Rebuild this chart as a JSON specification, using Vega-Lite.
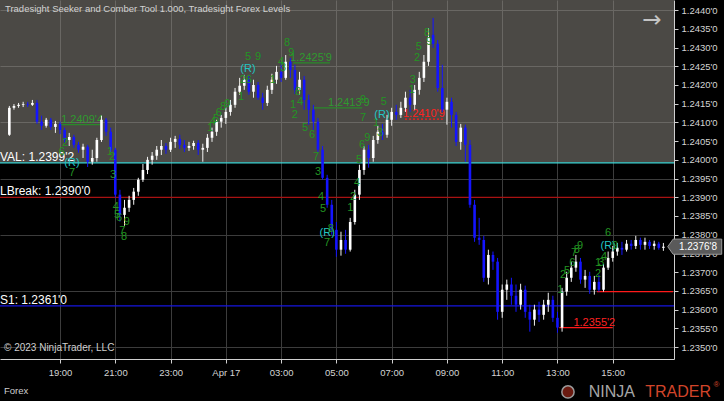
{
  "$schema": "https://vega.github.io/schema/vega-lite/v6.json",
  "width": 674,
  "height": 359,
  "autosize": {"type": "none"},
  "padding": {"left": 0, "top": 0, "right": 50, "bottom": 42},
  "background": "#000000",
  "config": {
    "view": {"stroke": null, "fill": "#000000"},
    "font": "Liberation Sans",
    "text": {"font": "Liberation Sans"},
    "scale": {"continuousPadding": 0},
    "axis": {"title": null, "labelOverlap": false},
    "axisY": {"labelOverlap": false},
    "axisQuantitative": {"labelOverlap": false}
  },
  "datasets": {
    "bars": [
      {"m":10,"o":1.24067,"h":1.24144,"l":1.24064,"c":1.24139},
      {"m":20,"o":1.24139,"h":1.24149,"l":1.24134,"c":1.24144},
      {"m":30,"o":1.24144,"h":1.24152,"l":1.24139,"c":1.24147},
      {"m":40,"o":1.24147,"h":1.24155,"l":1.24141,"c":1.24149},
      {"m":50,"o":1.24149,"h":1.24155,"l":1.24141,"c":1.24147},
      {"m":60,"o":1.24147,"h":1.2416,"l":1.24144,"c":1.24152},
      {"m":70,"o":1.24152,"h":1.2416,"l":1.24096,"c":1.24102},
      {"m":80,"o":1.24102,"h":1.24118,"l":1.2408,"c":1.24091},
      {"m":90,"o":1.24091,"h":1.24112,"l":1.24086,"c":1.24107},
      {"m":100,"o":1.24107,"h":1.24112,"l":1.2408,"c":1.24088},
      {"m":110,"o":1.24088,"h":1.24104,"l":1.24072,"c":1.24096},
      {"m":120,"o":1.24096,"h":1.24102,"l":1.24069,"c":1.2408},
      {"m":130,"o":1.2408,"h":1.24086,"l":1.24045,"c":1.24053},
      {"m":140,"o":1.24053,"h":1.24072,"l":1.24037,"c":1.24061},
      {"m":150,"o":1.24061,"h":1.24067,"l":1.24032,"c":1.2404},
      {"m":160,"o":1.2404,"h":1.24048,"l":1.24019,"c":1.24027},
      {"m":170,"o":1.24027,"h":1.24043,"l":1.24005,"c":1.24035},
      {"m":180,"o":1.24035,"h":1.2404,"l":1.23981,"c":1.23995},
      {"m":190,"o":1.23995,"h":1.24027,"l":1.23987,"c":1.24005},
      {"m":200,"o":1.24005,"h":1.24059,"l":1.23995,"c":1.24053},
      {"m":210,"o":1.24053,"h":1.24118,"l":1.24048,"c":1.24107},
      {"m":220,"o":1.24107,"h":1.24112,"l":1.24064,"c":1.24075},
      {"m":230,"o":1.24075,"h":1.24086,"l":1.24021,"c":1.24027},
      {"m":240,"o":1.24027,"h":1.24032,"l":1.23899,"c":1.23907},
      {"m":250,"o":1.23907,"h":1.2392,"l":1.23835,"c":1.23853},
      {"m":260,"o":1.23853,"h":1.23893,"l":1.23824,"c":1.23872},
      {"m":270,"o":1.23872,"h":1.23904,"l":1.23861,"c":1.23893},
      {"m":280,"o":1.23893,"h":1.23925,"l":1.2388,"c":1.23915},
      {"m":290,"o":1.23915,"h":1.23952,"l":1.23904,"c":1.23947},
      {"m":300,"o":1.23947,"h":1.23989,"l":1.23941,"c":1.23973},
      {"m":310,"o":1.23973,"h":1.24008,"l":1.23962,"c":1.24},
      {"m":320,"o":1.24,"h":1.24021,"l":1.23987,"c":1.24011},
      {"m":330,"o":1.24011,"h":1.24037,"l":1.24,"c":1.24027},
      {"m":340,"o":1.24027,"h":1.24053,"l":1.24013,"c":1.24037},
      {"m":350,"o":1.24037,"h":1.24045,"l":1.24016,"c":1.24027},
      {"m":360,"o":1.24027,"h":1.24059,"l":1.24021,"c":1.24048},
      {"m":370,"o":1.24048,"h":1.24064,"l":1.24032,"c":1.24056},
      {"m":380,"o":1.24056,"h":1.24067,"l":1.24029,"c":1.2404},
      {"m":390,"o":1.2404,"h":1.24053,"l":1.24021,"c":1.24032},
      {"m":400,"o":1.24032,"h":1.24048,"l":1.24024,"c":1.24037},
      {"m":410,"o":1.24037,"h":1.24051,"l":1.24027,"c":1.24045},
      {"m":420,"o":1.24045,"h":1.24053,"l":1.24013,"c":1.24027},
      {"m":430,"o":1.24027,"h":1.24043,"l":1.23995,"c":1.24032},
      {"m":440,"o":1.24032,"h":1.24069,"l":1.24021,"c":1.24059},
      {"m":450,"o":1.24059,"h":1.24086,"l":1.24048,"c":1.24075},
      {"m":460,"o":1.24075,"h":1.24107,"l":1.24064,"c":1.24102},
      {"m":470,"o":1.24102,"h":1.2412,"l":1.24086,"c":1.24112},
      {"m":480,"o":1.24112,"h":1.24139,"l":1.24096,"c":1.24128},
      {"m":490,"o":1.24128,"h":1.2416,"l":1.24118,"c":1.24147},
      {"m":500,"o":1.24147,"h":1.24192,"l":1.24139,"c":1.24182},
      {"m":510,"o":1.24182,"h":1.24219,"l":1.24174,"c":1.24198},
      {"m":520,"o":1.24198,"h":1.24227,"l":1.24187,"c":1.24214},
      {"m":530,"o":1.24214,"h":1.24224,"l":1.24174,"c":1.24182},
      {"m":540,"o":1.24182,"h":1.24214,"l":1.24166,"c":1.242},
      {"m":550,"o":1.242,"h":1.24208,"l":1.2416,"c":1.24166},
      {"m":560,"o":1.24166,"h":1.24179,"l":1.24134,"c":1.24152},
      {"m":570,"o":1.24152,"h":1.24198,"l":1.24144,"c":1.24187},
      {"m":580,"o":1.24187,"h":1.2423,"l":1.24176,"c":1.24214},
      {"m":590,"o":1.24214,"h":1.24251,"l":1.24203,"c":1.24235},
      {"m":600,"o":1.24235,"h":1.24262,"l":1.24208,"c":1.24219},
      {"m":610,"o":1.24219,"h":1.2428,"l":1.24214,"c":1.24262},
      {"m":620,"o":1.24262,"h":1.24272,"l":1.24219,"c":1.2424},
      {"m":630,"o":1.2424,"h":1.24254,"l":1.24176,"c":1.24187},
      {"m":640,"o":1.24187,"h":1.24235,"l":1.24174,"c":1.24214},
      {"m":650,"o":1.24214,"h":1.24224,"l":1.24134,"c":1.2416},
      {"m":660,"o":1.2416,"h":1.24174,"l":1.24094,"c":1.24134},
      {"m":670,"o":1.24134,"h":1.24147,"l":1.2408,"c":1.24102},
      {"m":680,"o":1.24102,"h":1.24112,"l":1.24021,"c":1.24027},
      {"m":690,"o":1.24027,"h":1.24037,"l":1.23947,"c":1.23952},
      {"m":700,"o":1.23952,"h":1.2396,"l":1.23872,"c":1.2388},
      {"m":710,"o":1.2388,"h":1.23893,"l":1.238,"c":1.23813},
      {"m":720,"o":1.23813,"h":1.23834,"l":1.23741,"c":1.2376},
      {"m":730,"o":1.2376,"h":1.23808,"l":1.23744,"c":1.23786},
      {"m":740,"o":1.23786,"h":1.23813,"l":1.23749,"c":1.2376},
      {"m":750,"o":1.2376,"h":1.23845,"l":1.23755,"c":1.23834},
      {"m":760,"o":1.23834,"h":1.2392,"l":1.23827,"c":1.23907},
      {"m":770,"o":1.23907,"h":1.23987,"l":1.23893,"c":1.23973},
      {"m":780,"o":1.23973,"h":1.24037,"l":1.2396,"c":1.24027},
      {"m":790,"o":1.24027,"h":1.2404,"l":1.23979,"c":1.24005},
      {"m":800,"o":1.24005,"h":1.24064,"l":1.23995,"c":1.24053},
      {"m":810,"o":1.24053,"h":1.24091,"l":1.24043,"c":1.24075},
      {"m":820,"o":1.24075,"h":1.24096,"l":1.24053,"c":1.24067},
      {"m":830,"o":1.24067,"h":1.2412,"l":1.24059,"c":1.24107},
      {"m":840,"o":1.24107,"h":1.24139,"l":1.24091,"c":1.24128},
      {"m":850,"o":1.24128,"h":1.24147,"l":1.24107,"c":1.2412},
      {"m":860,"o":1.2412,"h":1.24155,"l":1.24112,"c":1.24139},
      {"m":870,"o":1.24139,"h":1.24182,"l":1.24128,"c":1.24166},
      {"m":880,"o":1.24166,"h":1.24187,"l":1.24128,"c":1.24147},
      {"m":890,"o":1.24147,"h":1.242,"l":1.24134,"c":1.24187},
      {"m":900,"o":1.24187,"h":1.24235,"l":1.24174,"c":1.24219},
      {"m":910,"o":1.24219,"h":1.2428,"l":1.24208,"c":1.24262},
      {"m":920,"o":1.24262,"h":1.24352,"l":1.24251,"c":1.24326},
      {"m":930,"o":1.24334,"h":1.24379,"l":1.24299,"c":1.2431},
      {"m":940,"o":1.2431,"h":1.2432,"l":1.24182,"c":1.24192},
      {"m":950,"o":1.24192,"h":1.24254,"l":1.24128,"c":1.24134},
      {"m":960,"o":1.24134,"h":1.24166,"l":1.24094,"c":1.24155},
      {"m":970,"o":1.24155,"h":1.24166,"l":1.24086,"c":1.2412},
      {"m":980,"o":1.2412,"h":1.24128,"l":1.24037,"c":1.24048},
      {"m":990,"o":1.24048,"h":1.24096,"l":1.24027,"c":1.24086},
      {"m":1000,"o":1.24086,"h":1.24094,"l":1.23995,"c":1.2404},
      {"m":1010,"o":1.2404,"h":1.24053,"l":1.23872,"c":1.2388},
      {"m":1020,"o":1.2388,"h":1.23893,"l":1.23781,"c":1.23792},
      {"m":1030,"o":1.23792,"h":1.23845,"l":1.23773,"c":1.23786},
      {"m":1040,"o":1.23786,"h":1.23797,"l":1.23674,"c":1.23685},
      {"m":1050,"o":1.23685,"h":1.2376,"l":1.23667,"c":1.23746},
      {"m":1060,"o":1.23746,"h":1.23755,"l":1.23706,"c":1.23728},
      {"m":1070,"o":1.23728,"h":1.23738,"l":1.23573,"c":1.23594},
      {"m":1080,"o":1.23594,"h":1.23667,"l":1.23578,"c":1.23653},
      {"m":1090,"o":1.23653,"h":1.2368,"l":1.23626,"c":1.23667},
      {"m":1100,"o":1.23667,"h":1.23685,"l":1.23613,"c":1.23637},
      {"m":1110,"o":1.23637,"h":1.23667,"l":1.23594,"c":1.23613},
      {"m":1120,"o":1.23613,"h":1.23669,"l":1.236,"c":1.23653},
      {"m":1130,"o":1.23653,"h":1.23664,"l":1.23578,"c":1.23594},
      {"m":1140,"o":1.23594,"h":1.23613,"l":1.23541,"c":1.23573},
      {"m":1150,"o":1.23573,"h":1.23613,"l":1.23557,"c":1.236},
      {"m":1160,"o":1.236,"h":1.23621,"l":1.23567,"c":1.23586},
      {"m":1170,"o":1.23586,"h":1.23626,"l":1.23573,"c":1.23613},
      {"m":1180,"o":1.23613,"h":1.23645,"l":1.23594,"c":1.23626},
      {"m":1190,"o":1.23626,"h":1.23637,"l":1.23567,"c":1.23578},
      {"m":1200,"o":1.23578,"h":1.23594,"l":1.23538,"c":1.23552},
      {"m":1210,"o":1.23552,"h":1.23658,"l":1.23541,"c":1.23648},
      {"m":1220,"o":1.23648,"h":1.23701,"l":1.23637,"c":1.23685},
      {"m":1230,"o":1.23685,"h":1.23728,"l":1.23674,"c":1.23712},
      {"m":1240,"o":1.23712,"h":1.23746,"l":1.23701,"c":1.23728},
      {"m":1250,"o":1.23728,"h":1.23738,"l":1.23669,"c":1.2368},
      {"m":1260,"o":1.2368,"h":1.23706,"l":1.23658,"c":1.2369},
      {"m":1270,"o":1.2369,"h":1.23701,"l":1.23642,"c":1.23653},
      {"m":1280,"o":1.23653,"h":1.2369,"l":1.2364,"c":1.23674},
      {"m":1290,"o":1.23674,"h":1.23693,"l":1.23648,"c":1.23653},
      {"m":1300,"o":1.23653,"h":1.23722,"l":1.23648,"c":1.23712},
      {"m":1310,"o":1.23712,"h":1.23755,"l":1.23706,"c":1.23738},
      {"m":1320,"o":1.23738,"h":1.2377,"l":1.23728,"c":1.23755},
      {"m":1330,"o":1.23755,"h":1.23778,"l":1.23744,"c":1.23765},
      {"m":1340,"o":1.23765,"h":1.23781,"l":1.23746,"c":1.2376},
      {"m":1350,"o":1.2376,"h":1.23786,"l":1.23755,"c":1.23776},
      {"m":1360,"o":1.23776,"h":1.23786,"l":1.2376,"c":1.2377},
      {"m":1370,"o":1.2377,"h":1.23797,"l":1.23762,"c":1.23786},
      {"m":1380,"o":1.23786,"h":1.23792,"l":1.2376,"c":1.23773},
      {"m":1390,"o":1.23773,"h":1.23792,"l":1.2376,"c":1.23781},
      {"m":1400,"o":1.23781,"h":1.23786,"l":1.23762,"c":1.2377},
      {"m":1410,"o":1.2377,"h":1.23784,"l":1.2376,"c":1.23776},
      {"m":1420,"o":1.23776,"h":1.23781,"l":1.2376,"c":1.23765},
      {"m":1430,"o":1.23765,"h":1.23778,"l":1.23757,"c":1.23768}
    ],
    "levels": [
      {"name":"VAL","p":1.23992,"label":"VAL: 1.2399'2"},
      {"name":"LBreak","p":1.239,"label":"LBreak: 1.2390'0"},
      {"name":"S1","p":1.2361,"label":"S1: 1.2361'0"}
    ],
    "segs": [
      {"k":"g","m1":120,"m2":211,"p":1.24094,"label":"1.2409'4","lm":168},
      {"k":"g","m1":626,"m2":706,"p":1.24259,"label":"1.2425'9","lm":665},
      {"k":"g","m1":670,"m2":776,"p":1.24139,"label":"1.2413'9","lm":747},
      {"k":"rd","m1":869,"m2":951,"p":1.24109,"label":"1.2410'9","lm":910},
      {"k":"r","m1":1204,"m2":1320,"p":1.23552,"label":"1.2355'2","lm":1280},
      {"k":"r","m1":1286,"m2":1451,"p":1.23648,"label":"","lm":1368}
    ],
    "counts": [
      {"m":131,"p":1.24045,"t":"2","k":"g"},
      {"m":124,"p":1.24021,"t":"6","k":"g"},
      {"m":146,"p":1.23992,"t":"(R)","k":"c"},
      {"m":146,"p":1.23965,"t":"7","k":"g"},
      {"m":228,"p":1.24021,"t":"1","k":"g"},
      {"m":233,"p":1.24008,"t":"2","k":"g"},
      {"m":235,"p":1.2396,"t":"3","k":"g"},
      {"m":241,"p":1.23874,"t":"4","k":"g"},
      {"m":244,"p":1.23853,"t":"5","k":"g"},
      {"m":248,"p":1.23845,"t":"6","k":"g"},
      {"m":265,"p":1.23834,"t":"9","k":"g"},
      {"m":255,"p":1.2381,"t":"7","k":"g"},
      {"m":259,"p":1.23794,"t":"8","k":"g"},
      {"m":446,"p":1.24085,"t":"1","k":"g"},
      {"m":452,"p":1.24101,"t":"4","k":"g"},
      {"m":459,"p":1.24109,"t":"5","k":"g"},
      {"m":465,"p":1.24125,"t":"6","k":"g"},
      {"m":474,"p":1.24141,"t":"8","k":"g"},
      {"m":483,"p":1.24149,"t":"9","k":"g"},
      {"m":528,"p":1.24275,"t":"5","k":"g"},
      {"m":550,"p":1.24275,"t":"9","k":"g"},
      {"m":528,"p":1.24243,"t":"(R)","k":"c"},
      {"m":517,"p":1.24213,"t":"2","k":"g"},
      {"m":530,"p":1.24213,"t":"6","k":"g"},
      {"m":513,"p":1.24168,"t":"1","k":"g"},
      {"m":582,"p":1.24213,"t":"1","k":"g"},
      {"m":600,"p":1.24261,"t":"4","k":"g"},
      {"m":604,"p":1.24245,"t":"3","k":"g"},
      {"m":613,"p":1.24312,"t":"8","k":"g"},
      {"m":622,"p":1.24285,"t":"9","k":"g"},
      {"m":637,"p":1.24181,"t":"8","k":"g"},
      {"m":626,"p":1.24147,"t":"1","k":"g"},
      {"m":641,"p":1.24155,"t":"4","k":"g"},
      {"m":630,"p":1.2412,"t":"2","k":"g"},
      {"m":652,"p":1.24085,"t":"5","k":"g"},
      {"m":667,"p":1.24067,"t":"6","k":"g"},
      {"m":676,"p":1.24008,"t":"7","k":"g"},
      {"m":680,"p":1.23968,"t":"3","k":"g"},
      {"m":687,"p":1.23901,"t":"4","k":"g"},
      {"m":691,"p":1.23869,"t":"5","k":"g"},
      {"m":700,"p":1.23805,"t":"(R)","k":"c"},
      {"m":708,"p":1.23816,"t":"8","k":"g"},
      {"m":700,"p":1.23778,"t":"7","k":"g"},
      {"m":750,"p":1.23872,"t":"1","k":"g"},
      {"m":756,"p":1.23901,"t":"2","k":"g"},
      {"m":765,"p":1.23938,"t":"4","k":"g"},
      {"m":769,"p":1.24,"t":"5","k":"g"},
      {"m":776,"p":1.2404,"t":"6","k":"g"},
      {"m":787,"p":1.24059,"t":"9","k":"g"},
      {"m":778,"p":1.24112,"t":"7","k":"g"},
      {"m":778,"p":1.2416,"t":"9","k":"g"},
      {"m":806,"p":1.24099,"t":"1","k":"g"},
      {"m":815,"p":1.24072,"t":"3","k":"g"},
      {"m":819,"p":1.2412,"t":"(R)","k":"c"},
      {"m":823,"p":1.24155,"t":"5","k":"g"},
      {"m":884,"p":1.24187,"t":"1","k":"g"},
      {"m":886,"p":1.24213,"t":"3","k":"g"},
      {"m":895,"p":1.24272,"t":"2","k":"g"},
      {"m":899,"p":1.24302,"t":"5","k":"g"},
      {"m":917,"p":1.24339,"t":"8","k":"g"},
      {"m":921,"p":1.24315,"t":"9","k":"g"},
      {"m":1206,"p":1.23653,"t":"1","k":"g"},
      {"m":1212,"p":1.23693,"t":"2","k":"g"},
      {"m":1221,"p":1.23703,"t":"5","k":"g"},
      {"m":1232,"p":1.23725,"t":"6","k":"g"},
      {"m":1236,"p":1.23752,"t":"7","k":"g"},
      {"m":1242,"p":1.2376,"t":"8","k":"g"},
      {"m":1249,"p":1.2377,"t":"9","k":"g"},
      {"m":1288,"p":1.23725,"t":"1","k":"g"},
      {"m":1295,"p":1.23725,"t":"3","k":"g"},
      {"m":1288,"p":1.23696,"t":"2","k":"g"},
      {"m":1301,"p":1.23741,"t":"4","k":"g"},
      {"m":1310,"p":1.2377,"t":"(R)","k":"c"},
      {"m":1310,"p":1.23805,"t":"6","k":"g"},
      {"m":1325,"p":1.2377,"t":"9","k":"g"}
    ]
  },
  "layer": [
    {
      "data": {"name": "levels"},
      "transform": [{"filter": "datum.name == 'VAL'"}],
      "mark": {"type": "rect", "fill": "#96928a", "opacity": 0.5},
      "encoding": {
        "x": {"datum": -10.3, "type": "quantitative", "scale": {"domain": [-10.3, 1453], "nice": false, "zero": false, "padding": 0},
          "axis": {
            "title": null,
            "values": [120, 240, 360, 480, 600, 720, 840, 960, 1080, 1200, 1320],
            "labelExpr": "datum.value == 480 ? 'Apr 17' : ((17 + datum.value/60) % 24 < 10 ? '0' : '') + ((17 + datum.value/60) % 24) + ':00'",
            "grid": true, "gridColor": "#3c3c3c", "gridWidth": 1,
            "domainColor": "#cfcfcf", "tickColor": "#cfcfcf", "tickSize": 4,
            "labelColor": "#d4d4d4", "labelFontSize": 9.5, "labelFont": "Liberation Sans",
            "labelPadding": 4, "labelFlush": false, "labelOverlap": false
          }
        },
        "x2": {"datum": 1453},
        "y": {"field": "p", "type": "quantitative", "scale": {"domain": [1.23468, 1.24427], "nice": false, "zero": false},
          "axis": {
            "title": null, "orient": "right",
            "tickCount": 19,
            "labelExpr": "format(datum.value, '.4f') + \"'0\"",
            "grid": true, "gridColor": "#3c3c3c", "gridWidth": 1,
            "gridOpacity": {"condition": {"test": "round(datum.value * 10000) % 15 == 5", "value": 1}, "value": 0},
            "domainColor": "#cfcfcf", "tickColor": "#cfcfcf", "tickSize": 4,
            "labelColor": "#d4d4d4", "labelFontSize": 9.5, "labelFont": "Liberation Sans",
            "labelPadding": 3, "labelFlush": false, "labelOverlap": false, "labelBound": false
          }
        },
        "y2": {"datum": 1.24427}
      }
    },
    {
      "data": {"name": "levels"},
      "mark": {"type": "rule", "strokeWidth": 1.3},
      "encoding": {
        "y": {"field": "p", "type": "quantitative", "scale": {"domain": [1.23468, 1.24427], "nice": false, "zero": false}},
        "color": {"condition": [{"test": "datum.name == 'VAL'", "value": "#3cd6d6"}, {"test": "datum.name == 'LBreak'", "value": "#a81212"}], "value": "#1616e0"}
      }
    },
    {
      "data": {"name": "levels"},
      "mark": {"type": "text", "align": "left", "baseline": "alphabetic", "dy": -2, "fontSize": 12, "color": "#ffffff"},
      "encoding": {
        "x": {"datum": -10.3, "type": "quantitative", "scale": {"domain": [-10.3, 1453], "nice": false, "zero": false, "padding": 0}},
        "y": {"field": "p", "type": "quantitative", "scale": {"domain": [1.23468, 1.24427], "nice": false, "zero": false}},
        "text": {"field": "label"}
      }
    },
    {
      "data": {"name": "segs"},
      "mark": {"type": "rule", "strokeWidth": 1.3},
      "encoding": {
        "x": {"field": "m1", "type": "quantitative", "scale": {"domain": [-10.3, 1453], "nice": false, "zero": false, "padding": 0}},
        "x2": {"field": "m2"},
        "y": {"field": "p", "type": "quantitative", "scale": {"domain": [1.23468, 1.24427], "nice": false, "zero": false}},
        "color": {"condition": {"test": "datum.k == 'g'", "value": "#2a8a2a"}, "value": "#ff1a1a"},
        "strokeDash": {"condition": {"test": "datum.k == 'rd'", "value": [2, 2]}, "value": [1, 0]}
      }
    },
    {
      "data": {"name": "segs"},
      "mark": {"type": "text", "align": "center", "baseline": "alphabetic", "dy": -2, "fontSize": 11},
      "encoding": {
        "x": {"field": "lm", "type": "quantitative", "scale": {"domain": [-10.3, 1453], "nice": false, "zero": false, "padding": 0}},
        "y": {"field": "p", "type": "quantitative", "scale": {"domain": [1.23468, 1.24427], "nice": false, "zero": false}},
        "text": {"field": "label"},
        "color": {"condition": {"test": "datum.k == 'g'", "value": "#2f9a2f"}, "value": "#ff2222"}
      }
    },
    {
      "data": {"name": "bars"},
      "mark": {"type": "rule", "strokeWidth": 1},
      "encoding": {
        "x": {"field": "m", "type": "quantitative", "scale": {"domain": [-10.3, 1453], "nice": false, "zero": false, "padding": 0}},
        "y": {"field": "l", "type": "quantitative", "scale": {"domain": [1.23468, 1.24427], "nice": false, "zero": false}},
        "y2": {"field": "h"},
        "color": {"condition": {"test": "datum.c >= datum.o", "value": "#f2f2f2"}, "value": "#1414ff"}
      }
    },
    {
      "data": {"name": "bars"},
      "mark": {"type": "bar", "size": 2.6},
      "encoding": {
        "x": {"field": "m", "type": "quantitative", "scale": {"domain": [-10.3, 1453], "nice": false, "zero": false, "padding": 0}},
        "y": {"field": "o", "type": "quantitative", "scale": {"domain": [1.23468, 1.24427], "nice": false, "zero": false}},
        "y2": {"field": "c"},
        "color": {"condition": {"test": "datum.c >= datum.o", "value": "#ffffff"}, "value": "#1414ff"}
      }
    },
    {
      "data": {"name": "counts"},
      "mark": {"type": "text", "align": "center", "baseline": "middle", "fontSize": 11},
      "encoding": {
        "x": {"field": "m", "type": "quantitative", "scale": {"domain": [-10.3, 1453], "nice": false, "zero": false, "padding": 0}},
        "y": {"field": "p", "type": "quantitative", "scale": {"domain": [1.23468, 1.24427], "nice": false, "zero": false}},
        "text": {"field": "t"},
        "color": {"condition": {"test": "datum.k == 'c'", "value": "#22c4c4"}, "value": "#239523"}
      }
    },
    {
      "data": {"values": [{"p": 1.23768, "t": "1.2376'8"}]},
      "mark": {"type": "point", "shape": "M -1 0 L -0.8 -0.28 L 1 -0.28 L 1 0.28 L -0.8 0.28 Z", "size": 2916, "filled": true, "fill": "#5a5a5a", "stroke": "#9a9a9a", "strokeWidth": 1, "opacity": 1},
      "encoding": {
        "x": {"datum": 1498, "type": "quantitative", "scale": {"domain": [-10.3, 1453], "nice": false, "zero": false, "padding": 0}},
        "y": {"field": "p", "type": "quantitative", "scale": {"domain": [1.23468, 1.24427], "nice": false, "zero": false}}
      }
    },
    {
      "data": {"values": [{"p": 1.23768, "t": "1.2376'8"}]},
      "mark": {"type": "text", "align": "center", "baseline": "middle", "fontSize": 10, "color": "#ffffff"},
      "encoding": {
        "x": {"datum": 1505, "type": "quantitative", "scale": {"domain": [-10.3, 1453], "nice": false, "zero": false, "padding": 0}},
        "y": {"field": "p", "type": "quantitative", "scale": {"domain": [1.23468, 1.24427], "nice": false, "zero": false}},
        "text": {"field": "t"}
      }
    },
    {
      "data": {"values": [{"t": "Tradesight Seeker and Comber Tool 1.000, Tradesight Forex Levels"}]},
      "mark": {"type": "text", "align": "left", "baseline": "middle", "fontSize": 9.5, "color": "#d2d2d2"},
      "encoding": {
        "x": {"datum": 0.5, "type": "quantitative", "scale": {"domain": [-10.3, 1453], "nice": false, "zero": false, "padding": 0}},
        "y": {"datum": 1.24403, "type": "quantitative", "scale": {"domain": [1.23468, 1.24427], "nice": false, "zero": false}},
        "text": {"field": "t"}
      }
    },
    {
      "data": {"values": [{"t": "→"}]},
      "mark": {"type": "text", "align": "center", "baseline": "middle", "fontSize": 23, "font": "DejaVu Sans", "color": "#c4c4c4"},
      "encoding": {
        "x": {"datum": 1405, "type": "quantitative", "scale": {"domain": [-10.3, 1453], "nice": false, "zero": false, "padding": 0}},
        "y": {"datum": 1.24374, "type": "quantitative", "scale": {"domain": [1.23468, 1.24427], "nice": false, "zero": false}},
        "text": {"field": "t"}
      }
    },
    {
      "data": {"values": [{"t": "© 2023 NinjaTrader, LLC"}]},
      "mark": {"type": "text", "align": "left", "baseline": "middle", "fontSize": 10, "color": "#cfcfcf"},
      "encoding": {
        "x": {"datum": -1.6, "type": "quantitative", "scale": {"domain": [-10.3, 1453], "nice": false, "zero": false, "padding": 0}},
        "y": {"datum": 1.23498, "type": "quantitative", "scale": {"domain": [1.23468, 1.24427], "nice": false, "zero": false}},
        "text": {"field": "t"}
      }
    },
    {
      "data": {"values": [{"t": "Forex"}]},
      "mark": {"type": "text", "align": "left", "baseline": "middle", "fontSize": 9.5, "color": "#cfcfcf"},
      "encoding": {
        "x": {"datum": -1.6, "type": "quantitative", "scale": {"domain": [-10.3, 1453], "nice": false, "zero": false, "padding": 0}},
        "y": {"datum": 1.23383, "type": "quantitative", "scale": {"domain": [1.23468, 1.24427], "nice": false, "zero": false}},
        "text": {"field": "t"}
      }
    },
    {
      "data": {"values": [{"t": "logo"}]},
      "mark": {"type": "point", "shape": "circle", "size": 150, "filled": true, "fill": "#6a1a10", "stroke": "#9a9a9a", "strokeWidth": 1.5, "opacity": 1},
      "encoding": {
        "x": {"datum": 1222.8, "type": "quantitative", "scale": {"domain": [-10.3, 1453], "nice": false, "zero": false, "padding": 0}},
        "y": {"datum": 1.2338, "type": "quantitative", "scale": {"domain": [1.23468, 1.24427], "nice": false, "zero": false}}
      }
    },
    {
      "data": {"values": [{"t": "NINJA"}]},
      "mark": {"type": "text", "align": "center", "baseline": "middle", "fontSize": 16, "color": "#a6a6a6"},
      "encoding": {
        "x": {"datum": 1318, "type": "quantitative", "scale": {"domain": [-10.3, 1453], "nice": false, "zero": false, "padding": 0}},
        "y": {"datum": 1.2338, "type": "quantitative", "scale": {"domain": [1.23468, 1.24427], "nice": false, "zero": false}},
        "text": {"field": "t"}
      }
    },
    {
      "data": {"values": [{"t": "TRADER"}]},
      "mark": {"type": "text", "align": "center", "baseline": "middle", "fontSize": 16, "color": "#d2452a"},
      "encoding": {
        "x": {"datum": 1462, "type": "quantitative", "scale": {"domain": [-10.3, 1453], "nice": false, "zero": false, "padding": 0}},
        "y": {"datum": 1.2338, "type": "quantitative", "scale": {"domain": [1.23468, 1.24427], "nice": false, "zero": false}},
        "text": {"field": "t"}
      }
    },
    {
      "data": {"values": [{"t": "®"}]},
      "mark": {"type": "text", "align": "center", "baseline": "middle", "fontSize": 8, "color": "#d2452a"},
      "encoding": {
        "x": {"datum": 1545, "type": "quantitative", "scale": {"domain": [-10.3, 1453], "nice": false, "zero": false, "padding": 0}},
        "y": {"datum": 1.23398, "type": "quantitative", "scale": {"domain": [1.23468, 1.24427], "nice": false, "zero": false}},
        "text": {"field": "t"}
      }
    }
  ]
}
